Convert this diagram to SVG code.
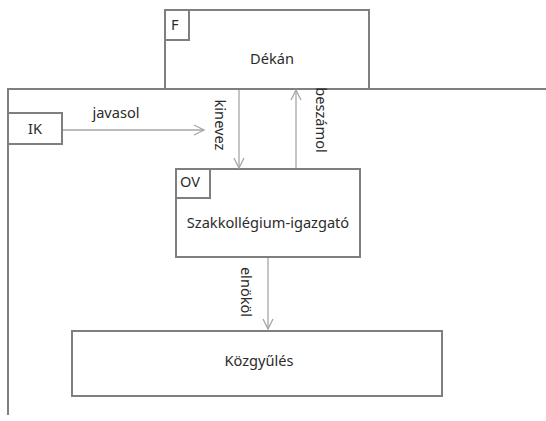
<svg xmlns="http://www.w3.org/2000/svg" width="546" height="421" viewBox="0 0 546 421">
<defs>
<style>
.box{fill:#fff;stroke:#7f7f7f;stroke-width:2}
.frame{fill:none;stroke:#7f7f7f;stroke-width:2}
.con{fill:none;stroke:#a6a6a6;stroke-width:1.3}
.t{font-family:"Segoe UI","Noto Sans","Open Sans",sans-serif;font-size:14.6px;fill:#2b2b2b}
</style>
<marker id="ah" viewBox="0 0 12 12" refX="11" refY="6" markerWidth="12" markerHeight="12" markerUnits="userSpaceOnUse" orient="auto">
<polyline points="1,1 11,6 1,11" fill="none" stroke="#a6a6a6" stroke-width="1.3"/>
</marker>
</defs>
<rect width="546" height="421" fill="#fff"/>
<g id="frame">
<path class="frame" d="M8,415 V89 H546"/>
</g>
<g id="dekan">
<rect class="box" x="165" y="10" width="204" height="79"/>
<rect class="box" x="165" y="10" width="24" height="30"/>
<text class="t" x="171" y="30">F</text>
<text class="t" x="272" y="64" text-anchor="middle">Dékán</text>
</g>
<g id="ik">
<rect class="box" x="8" y="113" width="54" height="31"/>
<text class="t" x="35" y="134" text-anchor="middle">IK</text>
</g>
<g id="ov">
<rect class="box" x="176" y="169" width="184" height="88"/>
<rect class="box" x="176" y="169" width="34" height="29"/>
<text class="t" x="190" y="187" text-anchor="middle">OV</text>
<text class="t" x="268" y="228" text-anchor="middle">Szakkollégium-igazgató</text>
</g>
<g id="kozgyules">
<rect class="box" x="72" y="331" width="370" height="65"/>
<text class="t" x="259" y="366" text-anchor="middle">Közgyűlés</text>
</g>
<g id="connectors">
<line class="con" x1="63" y1="130" x2="204" y2="130" marker-end="url(#ah)"/>
<line class="con" x1="239" y1="90" x2="239" y2="168" marker-end="url(#ah)"/>
<line class="con" x1="296" y1="168" x2="296" y2="90" marker-end="url(#ah)"/>
<line class="con" x1="268" y1="258" x2="268" y2="329" marker-end="url(#ah)"/>
<text class="t" x="116" y="118" text-anchor="middle">javasol</text>
<text class="t" transform="translate(215,125) rotate(90)" text-anchor="middle">kinevez</text>
<text class="t" transform="translate(316,120) rotate(90)" text-anchor="middle">beszámol</text>
<text class="t" transform="translate(241,292) rotate(90)" text-anchor="middle">elnököl</text>
</g>
</svg>
